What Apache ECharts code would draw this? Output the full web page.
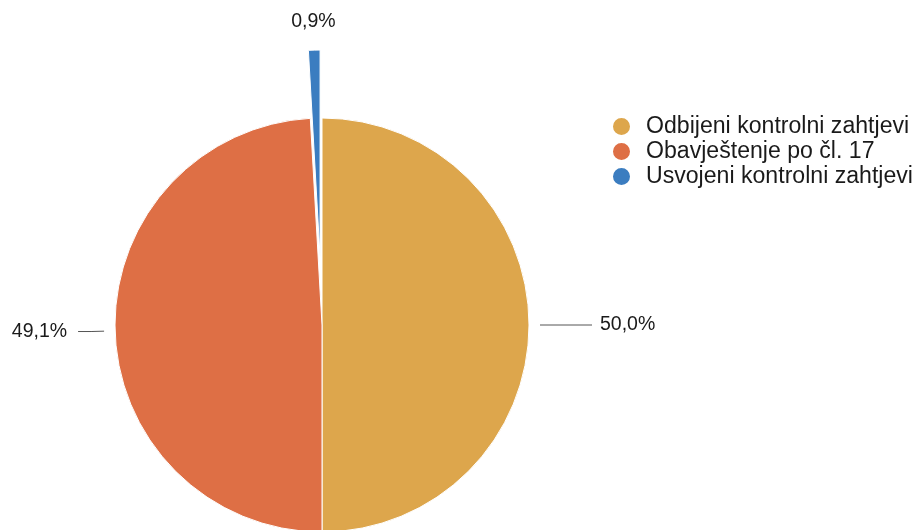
<!DOCTYPE html>
<html>
<head>
<meta charset="utf-8">
<script src="https://cdn.jsdelivr.net/npm/echarts@6/dist/echarts.min.js"></script>
<style>
html,body{margin:0;padding:0;background:#fff;}
#chart{width:920px;height:530px;}
</style>
</head>
<body>
<div id="chart"></div>
<script>
var categories = ['Odbijeni kontrolni zahtjevi', 'Obavještenje po čl. 17', 'Usvojeni kontrolni zahtjevi'];
var values = [50.0, 49.1, 0.9];
var colors = ['#DDA64C', '#DE6F45', '#3B7DC0'];

var FONT = '"Liberation Sans", Arial, Helvetica, sans-serif';
var CENTER = [322, 325];
var R = 207;

function fmt(v) { return v.toFixed(1).replace('.', ',') + '%'; }

var lineCfg = [
  {length: 26, length2: 26, dist: 8},
  {length: 13, length2: 13, dist: 11},
  {length: 85, length2: 0, dist: 0}
];

var visibleData = categories.map(function (c, i) {
  return {name: c, value: values[i], selected: i === 2, itemStyle: {color: colors[i]}};
});

var labelData = categories.map(function (c, i) {
  return {
    name: c, value: values[i],
    label: {distanceToLabelLine: lineCfg[i].dist},
    labelLine: {show: i !== 2, length: lineCfg[i].length, length2: lineCfg[i].length2}
  };
});

var chart = echarts.init(document.getElementById('chart'), null, {renderer: 'canvas'});
chart.setOption({
  animation: false,
  backgroundColor: '#ffffff',
  color: colors,
  legend: {
    orient: 'vertical',
    left: 611,
    top: 114,
    padding: 0,
    icon: 'circle',
    itemWidth: 19,
    itemHeight: 19,
    itemGap: 0,
    selectedMode: false,
    data: categories,
    textStyle: {
      fontFamily: FONT,
      fontSize: 23.1,
      color: '#1a1a1a',
      lineHeight: 25,
      padding: [0, 0, 0, 10]
    }
  },
  series: [
    {
      type: 'pie',
      center: CENTER,
      radius: [0, R],
      startAngle: 90,
      clockwise: true,
      selectedMode: 'single',
      selectedOffset: 68,
      silent: true,
      label: {show: false},
      labelLine: {show: false},
      itemStyle: {borderColor: '#ffffff', borderWidth: 1},
      emphasis: {disabled: true},
      data: visibleData
    },
    {
      type: 'pie',
      center: CENTER,
      radius: [0, R + 11],
      startAngle: 90,
      clockwise: true,
      silent: true,
      avoidLabelOverlap: false,
      itemStyle: {color: 'rgba(0,0,0,0)', borderWidth: 0},
      emphasis: {disabled: true},
      label: {
        show: true,
        position: 'outside',
        fontFamily: FONT,
        fontSize: 19.5,
        color: '#1a1a1a',
        formatter: function (p) { return fmt(p.value); }
      },
      labelLine: {lineStyle: {color: '#555555', width: 1}},
      labelLayout: function (p) {
        if (p.dataIndex === 2) { return {align: 'center'}; }
      },
      data: labelData
    }
  ]
});
</script>
</body>
</html>
